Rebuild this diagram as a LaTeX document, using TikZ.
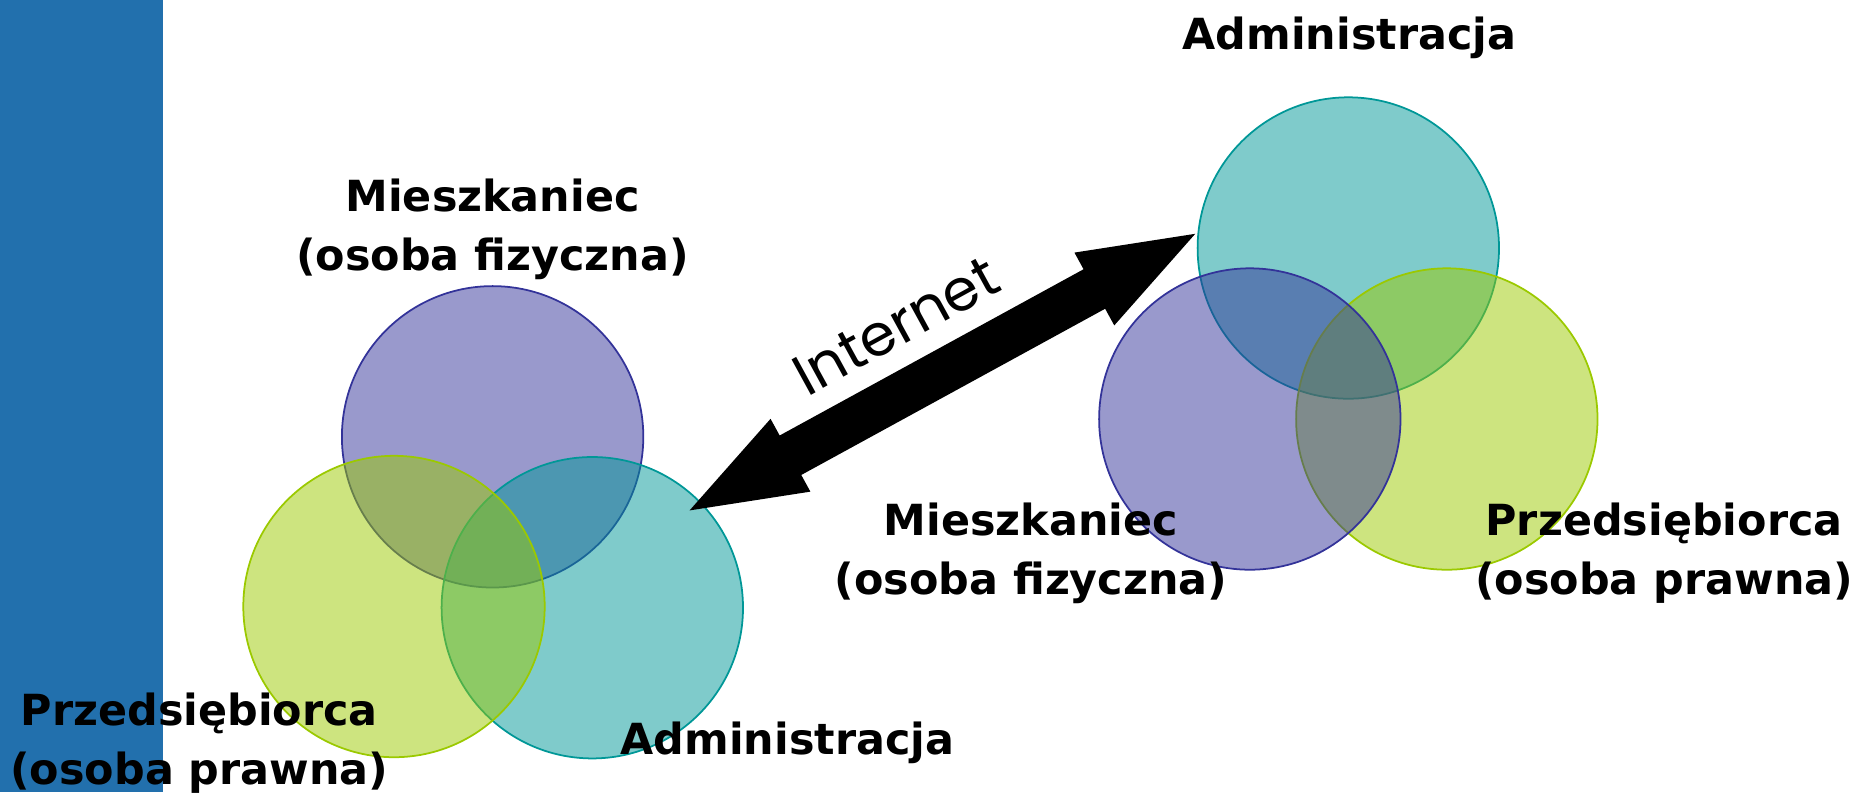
\documentclass[tikz,border=0pt]{standalone}
\usepackage{fontspec}
\setmainfont{DejaVu Sans}
\newfontfamily\netfont{Poppins}
\usetikzlibrary{calc,positioning}

\definecolor{barblue}{HTML}{2270AD}
\definecolor{resblue}{HTML}{333399}
\definecolor{firmgreen}{HTML}{9BC900}
\definecolor{officeteal}{HTML}{009797}

\begin{document}
\begin{tikzpicture}[
  x=0.1mm, y=-0.1mm,
  disc/.style={circle,draw,minimum size=30.14mm,inner sep=0pt,
    line width=0.5pt,fill opacity=0.5},
  resident/.style={disc,draw=resblue,fill=resblue},
  firm/.style={disc,draw=firmgreen,fill=firmgreen},
  office/.style={disc,draw=officeteal,fill=officeteal},
  who/.style={font=\fontsize{12.2}{16.8}\selectfont\bfseries,
    align=center,inner sep=0pt}
]
  \useasboundingbox (0,0) rectangle (1861,792);
  \fill[barblue] (0,0) rectangle (163,792);

  % left group
  \node[resident] (mieszL) at (492.6,436.8) {};
  \node[office] (adminL) at (592.3,607.7) {};
  \node[firm] (przedL) at (394,606.5) {};

  % right group
  \node[office] (adminR) at (1348.3,248) {};
  \node[firm] (przedR) at (1446.8,419) {};
  \node[resident] (mieszR) at (1249.8,419) {};

  % labels
  \node[who] (mieszLtxt) at (492.6,229) {Mieszkaniec\\(osoba fizyczna)};
  \node[who] (przedLtxt) at (199.4,743.5) {Przedsiębiorca\\(osoba prawna)};
  \node[who,anchor=base] (adminLtxt) at (787.5,754) {Administracja};
  \node[who,anchor=base] (adminRtxt) at (1349.5,49) {Administracja};
  \node[who] (mieszRtxt) at (1031,553) {Mieszkaniec\\(osoba fizyczna)};
  \node[who] (przedRtxt) at (1664,553) {Przedsiębiorca\\(osoba prawna)};

  % internet link, a double arrow between the two groups
  \coordinate (tipL) at (689.6,510.4);
  \coordinate (tipR) at (1195.2,233.8);
  \coordinate (mid) at ($(tipL)!0.5!(tipR)$);
  \begin{scope}[shift={(mid)},rotate=28.68]
    \fill (288.2,0) -- (173.2,41.5) -- (173.2,22.5) -- (-173.2,22.5)
      -- (-173.2,41.5) -- (-288.2,0) -- (-173.2,-41.5) -- (-173.2,-22.5)
      -- (173.2,-22.5) -- (173.2,-41.5) -- cycle;
  \end{scope}
  \node[font=\netfont\fontsize{16.5}{16.5}\selectfont,rotate=28.7] (inet)
    at (896,326) {Internet};
\end{tikzpicture}
\end{document}
